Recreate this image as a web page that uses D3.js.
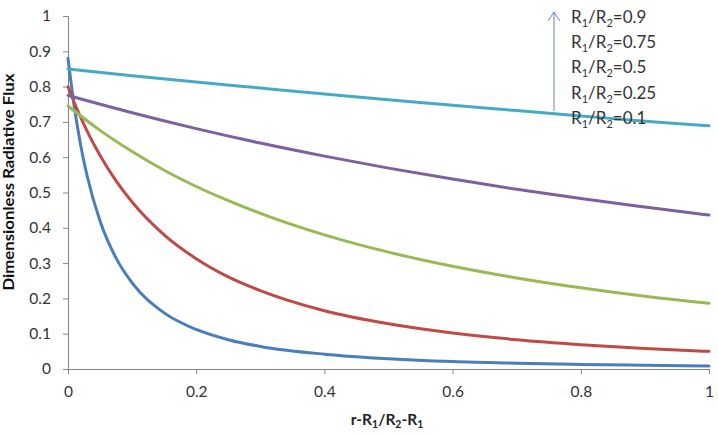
<!DOCTYPE html>
<html><head><meta charset="utf-8">
<script src="https://cdn.jsdelivr.net/npm/d3@7"></script>
<style>body{margin:0;background:#fff}svg{display:block}</style>
</head><body>
<svg id="c" width="718" height="436"></svg>
<script>
// Data
const xFine = [0,0.01,0.02,0.03,0.05,0.075,0.1,0.15,0.2,0.25,0.3,0.4,0.5,0.6,0.7,0.8,0.9,1.0];
const xMid = [0,0.05,0.1,0.15,0.2,0.25,0.3,0.4,0.5,0.6,0.7,0.8,0.9,1.0];
const xCoarse = [0,0.1,0.2,0.3,0.4,0.5,0.6,0.7,0.8,0.9,1.0];
const ratio01 = [0.88,0.741,0.632,0.546,0.419,0.314,0.244,0.159,0.112,0.083,0.064,0.042,0.029,0.021,0.0165,0.0131,0.0106,0.0088];
const ratio025 = [0.80,0.754,0.712,0.673,0.605,0.533,0.473,0.380,0.3125,0.261,0.222,0.165,0.128,0.102,0.083,0.069,0.058,0.050];
const ratio05 = [0.745,0.676,0.616,0.563,0.517,0.477,0.441,0.380,0.331,0.291,0.258,0.230,0.206,0.186];
const ratio075 = [0.775,0.726,0.681,0.640,0.603,0.569,0.538,0.509,0.483,0.459,0.436];
const ratio09 = [0.85,0.831,0.813,0.796,0.779,0.763,0.747,0.732,0.717,0.702,0.689];
const xTicks = [0,0.2,0.4,0.6,0.8,1];
const yTicks = [0,0.1,0.2,0.3,0.4,0.5,0.6,0.7,0.8,0.9,1];
const legendLabels = ["0.9","0.75","0.5","0.25","0.1"];

const series = [
  {x:xFine, y:ratio01, color:"#4A7EBB"},
  {x:xFine, y:ratio025, color:"#BE4B48"},
  {x:xMid, y:ratio05, color:"#98B954"},
  {x:xCoarse, y:ratio075, color:"#7D60A0"},
  {x:xCoarse, y:ratio09, color:"#46AAC5"}
];

const svg = d3.select("#c");
const font = "Lato, 'Open Sans', sans-serif";
const x = d3.scaleLinear().domain([0,1]).range([68,709]);
const y = d3.scaleLinear().domain([0,1]).range([369,16]);

// axes
const xAxis = svg.append("g").attr("transform","translate(0,369)")
  .call(d3.axisBottom(x).tickValues(xTicks).tickFormat(d=>String(+d.toFixed(1))).tickSize(5).tickPadding(12));
const yAxis = svg.append("g").attr("transform","translate(68,0)")
  .call(d3.axisLeft(y).tickValues(yTicks).tickFormat(d=>String(+d.toFixed(1))).tickSize(5).tickPadding(12));
[xAxis,yAxis].forEach(g=>{
  g.select(".domain").attr("stroke","#868686").attr("stroke-width",1);
  g.selectAll(".tick line").attr("stroke","#868686");
  g.selectAll("text").attr("fill","#333").attr("font-family",font).attr("font-size",15.5);
});

// lines
const line = d3.line().curve(d3.curveMonotoneX);
series.forEach(s=>{
  svg.append("path")
    .attr("d", line(s.x.map((v,i)=>[x(v), y(s.y[i])])))
    .attr("fill","none").attr("stroke",s.color).attr("stroke-width",3).attr("stroke-linecap","round");
});

// axis titles
const xt = svg.append("text").attr("x",387).attr("y",425).attr("text-anchor","middle")
  .attr("font-family",font).attr("font-size",15.5).attr("font-weight","bold").attr("fill","#222");
xt.append("tspan").text("r-R");
xt.append("tspan").text("1").attr("font-size",10.5).attr("dy",3);
xt.append("tspan").text("/R").attr("dy",-3);
xt.append("tspan").text("2").attr("font-size",10.5).attr("dy",3);
xt.append("tspan").text("-R").attr("dy",-3);
xt.append("tspan").text("1").attr("font-size",10.5).attr("dy",3);

svg.append("text").attr("transform","translate(14,182) rotate(-90)").attr("text-anchor","middle")
  .attr("font-family",font).attr("font-size",15).attr("font-weight","bold").attr("fill","#111")
  .attr("textLength",217).attr("lengthAdjust","spacingAndGlyphs")
  .text("Dimensionless Radiative Flux");

// legend annotations
legendLabels.forEach((l,i)=>{
  const t = svg.append("text").attr("x",571).attr("y",23+i*25.2)
    .attr("font-family",font).attr("font-size",17).attr("fill","#333");
  t.append("tspan").text("R");
  t.append("tspan").text("1").attr("font-size",11).attr("dy",4);
  t.append("tspan").text("/R").attr("dy",-4);
  t.append("tspan").text("2").attr("font-size",11).attr("dy",4);
  t.append("tspan").text("=" + l).attr("dy",-4);
});
// arrow
svg.append("path").attr("d","M554,111L554,12M548,21L554,12L560,21")
  .attr("fill","none").attr("stroke","#5B8AC6").attr("stroke-width",1);
</script>
</body></html>
